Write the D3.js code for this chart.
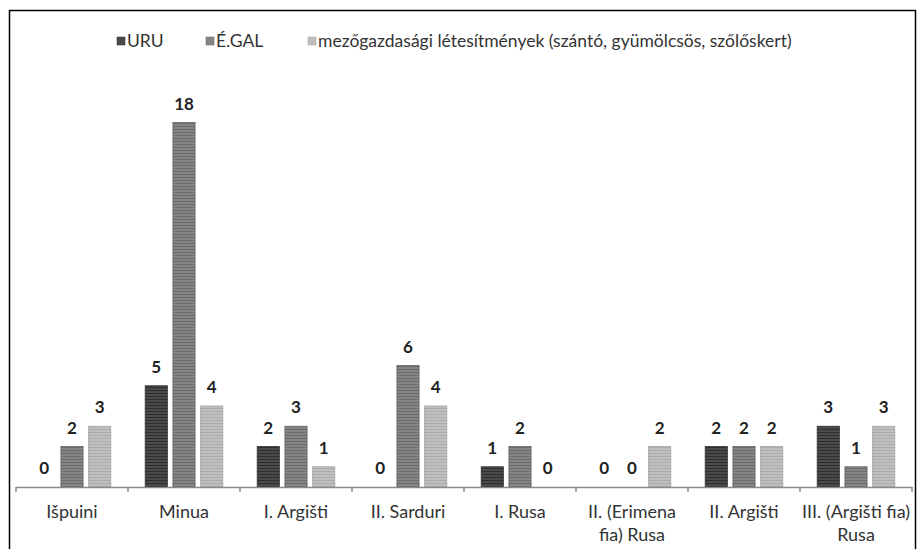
<!DOCTYPE html>
<html><head><meta charset="utf-8">
<script src="https://cdn.jsdelivr.net/npm/d3@7"></script>
<style>body{margin:0;background:#fff}svg{display:block}</style>
</head><body>
<svg id="c" width="922" height="549"></svg>
<script>
const categories = [["Išpuini"],["Minua"],["I. Argišti"],["II. Sarduri"],["I. Rusa"],["II. (Erimena","fia) Rusa"],["II. Argišti"],["III. (Argišti fia)","Rusa"]];
const seriesNames = ["URU","É.GAL","mezőgazdasági létesítmények (szántó, gyümölcsös, szőlőskert)"];
const uru =   [0,5,2,0,1,0,2,3];
const egal =  [2,18,3,6,2,0,2,1];
const mezo =  [3,4,1,4,0,2,2,3];
const seriesValues = [uru, egal, mezo];

const svg = d3.select("#c");
const font = "Lato, 'Open Sans', sans-serif";
// frame
svg.append("rect").attr("x",9.5).attr("y",10.5).attr("width",906).attr("height",560)
  .attr("fill","#fff").attr("stroke","#000").attr("stroke-width",1.5);

const colors = [{base:"#4a4a4a",line:"#2e2e2e",stroke:"#333"},{base:"#858585",line:"#6c6c6c",stroke:"#666"},{base:"#bfbfbf",line:"#acacac",stroke:"#a5a5a5"}];
const defs = svg.append("defs");
colors.forEach((c,i)=>{
  const p = defs.append("pattern").attr("id","p"+i).attr("patternUnits","userSpaceOnUse").attr("width",4).attr("height",3);
  p.append("rect").attr("width",4).attr("height",3).attr("fill",c.base);
  p.append("rect").attr("width",4).attr("height",1).attr("fill",c.line);
});

const x0 = d3.scaleBand().domain(d3.range(categories.length)).range([16,912]);
const x1 = d3.scaleBand().domain(d3.range(3)).range([0,x0.bandwidth()]).paddingInner(0.2).paddingOuter(0.62);
const y = d3.scaleLinear().domain([0,20]).range([487,82]);

const g = svg.append("g");
seriesValues.forEach((vals,s)=>{
  g.selectAll(".b"+s).data(vals).enter().append("rect")
    .attr("x",(d,i)=>x0(i)+x1(s)).attr("width",x1.bandwidth())
    .attr("y",d=>y(d)).attr("height",d=>y(0)-y(d))
    .attr("fill","url(#p"+s+")").attr("stroke",colors[s].stroke).attr("stroke-width",d=>d>0?0.8:0);
  g.selectAll(".l"+s).data(vals).enter().append("text")
    .attr("x",(d,i)=>x0(i)+x1(s)+x1.bandwidth()/2).attr("y",d=>y(d)-13)
    .attr("text-anchor","middle").attr("font-family",font).attr("font-weight","bold")
    .attr("font-size",17).attr("fill","#222").text(d=>d);
});

// axis
const axis = d3.axisBottom(x0).tickSize(0).tickFormat("");
const ag = svg.append("g").attr("transform","translate(0,487)").call(axis);
ag.select(".domain").attr("stroke","#8a8a8a").attr("stroke-width",1.5);
const bounds = d3.range(categories.length+1).map(i=> i<categories.length? x0(i): x0(categories.length-1)+x0.bandwidth());
ag.selectAll(".tk").data(bounds).enter().append("line").attr("x1",d=>d).attr("x2",d=>d).attr("y1",0).attr("y2",5)
  .attr("stroke","#8a8a8a").attr("stroke-width",1.5);
categories.forEach((lines,i)=>{
  lines.forEach((t,k)=>{
    svg.append("text").attr("x",x0(i)+x0.bandwidth()/2).attr("y",518+k*23).attr("text-anchor","middle")
      .attr("font-family",font).attr("font-size",18).attr("fill","#333").text(t);
  });
});

// legend
const legX = [117,206,308];
seriesNames.forEach((n,i)=>{
  svg.append("rect").attr("x",legX[i]).attr("y",37).attr("width",8).attr("height",8).attr("fill",colors[i].base).attr("stroke",colors[i].stroke).attr("stroke-width",0.5);
  svg.append("text").attr("x",legX[i]+10).attr("y",47).attr("font-family",font).attr("font-size",17.5).attr("fill","#333").text(n);
});
</script>
</body></html>
